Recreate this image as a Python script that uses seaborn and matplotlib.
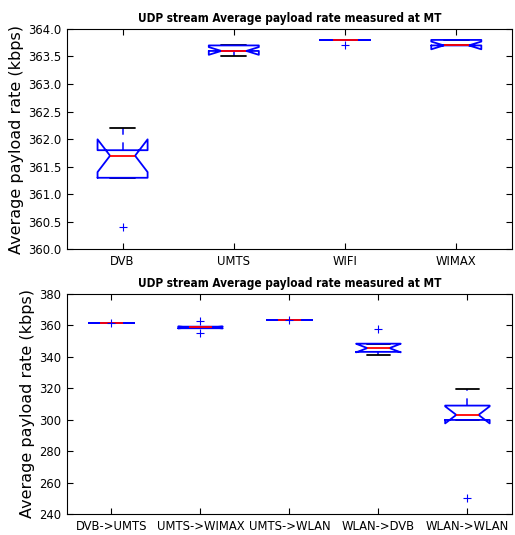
import numpy as np
import pandas as pd
import matplotlib
matplotlib.use('Agg')
import matplotlib.pyplot as plt
import seaborn as sns

# Payload rate samples per access network (kbps)
networks = ['DVB', 'UMTS', 'WIFI', 'WIMAX']
dvb = [360.4, 361.3, 361.3, 361.7, 361.8, 361.8, 362.2]
umts = [363.5, 363.6, 363.6, 363.7, 363.7]
wifi = [363.7, 363.8, 363.8, 363.8, 363.8]
wimax = [363.7, 363.7, 363.7, 363.8, 363.8]

# Payload rate samples per handover (kbps)
handovers = ['DVB->UMTS', 'UMTS->WIMAX', 'UMTS->WLAN', 'WLAN->DVB', 'WLAN->WLAN']
dvb_umts = [361.3, 361.3, 361.3, 361.3, 361.6]
umts_wimax = [355.0, 358.0, 358.0, 358.5, 359.0, 359.0, 362.8]
umts_wlan = [363.0, 363.0, 363.0, 363.0, 363.3]
wlan_dvb = [340.7, 342.0, 343.0, 344.5, 345.4, 346.5, 348.2, 348.2, 357.5]
wlan_wlan = [250.0, 299.8, 299.8, 303.0, 308.9, 308.9, 319.5]

top_ticks = [360.0, 360.5, 361.0, 361.5, 362.0, 362.5, 363.0, 363.5, 364.0]
bottom_ticks = [240, 260, 280, 300, 320, 340, 360, 380]

title = 'UDP stream Average payload rate measured at MT'
ylabel = 'Average payload rate (kbps)'

# long-form tables for seaborn
net_df = pd.DataFrame({
    'Network': np.repeat(networks, [len(dvb), len(umts), len(wifi), len(wimax)]),
    'Rate': dvb + umts + wifi + wimax,
})
ho_df = pd.DataFrame({
    'Handover': np.repeat(handovers, [len(dvb_umts), len(umts_wimax), len(umts_wlan),
                                      len(wlan_dvb), len(wlan_wlan)]),
    'Rate': dvb_umts + umts_wimax + umts_wlan + wlan_dvb + wlan_wlan,
})

sns.set_style('ticks', {
    'xtick.direction': 'in', 'ytick.direction': 'in',
    'xtick.top': True, 'ytick.right': True,
    'axes.edgecolor': 'black', 'axes.linewidth': 1.2,
    'text.color': 'black', 'axes.labelcolor': 'black',
    'xtick.color': 'black', 'ytick.color': 'black',
})
plt.rcParams['font.family'] = ['DejaVu Sans']
plt.rcParams['font.stretch'] = 'condensed'

# caps/whiskers sit under the box outline, like the old matplotlib look
box_style = dict(
    notch=True, fill=False, whis=1.5, linewidth=1.3,
    boxprops=dict(color='blue', linewidth=1.3, zorder=3),
    medianprops=dict(color='red', linewidth=1.3, zorder=3.1),
    whiskerprops=dict(color='blue', linestyle=(0, (5, 5)), linewidth=1.1, zorder=2),
    capprops=dict(color='black', linewidth=1.3, zorder=2),
    flierprops=dict(marker='+', markeredgecolor='blue', markerfacecolor='blue',
                    markersize=6, markeredgewidth=0.8, zorder=3.2),
)

fig, (ax1, ax2) = plt.subplots(2, 1, figsize=(5.15, 5.35), dpi=100)
fig.subplots_adjust(left=0.13, right=0.994, top=0.946, bottom=0.039, hspace=0.2)

sns.boxplot(data=net_df, x='Network', y='Rate', order=networks, width=0.45, ax=ax1, **box_style)
sns.boxplot(data=ho_df, x='Handover', y='Rate', order=handovers, width=0.5, ax=ax2, **box_style)

for ax, ticks, fmt in [(ax1, top_ticks, '{:.1f}'), (ax2, bottom_ticks, '{:.0f}')]:
    ax.set_ylim(ticks[0], ticks[-1])
    ax.set_yticks(ticks)
    ax.set_yticklabels([fmt.format(t) for t in ticks])
    ax.set_xlabel('')
    ax.set_ylabel(ylabel, fontsize=11.5, fontstretch='normal', labelpad=3)
    ax.set_title(title, fontsize=8.5, fontweight='bold', pad=5)
    ax.tick_params(axis='both', which='both', length=4, width=0.8, labelsize=9.3,
                   pad=4, color='black', labelcolor='black')
    for s in ax.spines.values():
        s.set_visible(True)
        s.set_color('black')

plt.savefig('out.png', dpi=100)
